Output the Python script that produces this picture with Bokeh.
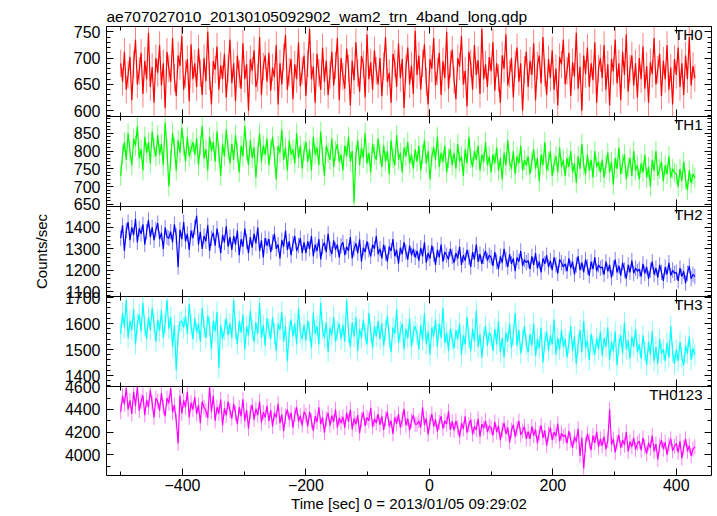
import numpy as np
from bokeh.plotting import figure
from bokeh.layouts import column
from bokeh.models import LinearAxis, Range1d, Label, SingleIntervalTicker
from bokeh.embed import file_html
from bokeh.resources import INLINE

title_text = "ae707027010_20130105092902_wam2_trn_4band_long.qdp"
x_label = "Time [sec] 0 = 2013/01/05 09:29:02"
y_label = "Counts/sec"

t_start = -500
t_step = 3

th0 = [
    690, 655, 712, 640, 668, 702, 620, 688, 735, 650, 676, 710, 632, 695, 660, 748, 645, 683, 615, 700,
    672, 725, 648, 690, 605, 712, 680, 655, 738, 662, 628, 705, 685, 742, 640, 670, 698, 618, 726, 660,
    690, 645, 718, 672, 630, 700, 656, 750, 665, 612, 694, 678, 722, 640, 686, 660, 708, 625, 680, 735,
    652, 690, 618, 705, 670, 642, 728, 660, 688, 600, 698, 676, 715, 645, 662, 740, 630, 684, 705, 655,
    710, 638, 682, 664, 725, 612, 690, 650, 702, 744, 640, 674, 698, 622, 688, 660, 730, 646, 676, 705,
    628, 690, 755, 660, 684, 615, 708, 672, 640, 720, 655, 695, 630, 668, 712, 648, 686, 738, 620, 700,
    665, 642, 718, 680, 610, 695, 658, 730, 672, 636, 704, 688, 625, 745, 660, 692, 640, 715, 676, 650,
    700, 628, 685, 740, 655, 672, 615, 708, 690, 645, 728, 662, 698, 605, 680, 720, 650, 686, 632, 752,
    668, 705, 640, 690, 726, 655, 612, 698, 680, 738, 648, 675, 710, 630, 694, 662, 750, 642, 688, 716,
    658, 622, 700, 684, 742, 650, 676, 608, 712, 690, 640, 725, 668, 696, 632, 755, 660, 688, 645, 702,
    675, 730, 638, 690, 662, 615, 705, 680, 745, 648, 670, 700, 625, 688, 720, 655, 690, 600, 678, 712,
    645, 695, 668, 728, 620, 686, 705, 652, 740, 672, 630, 698, 662, 715, 640, 680, 610, 702, 688, 735,
    650, 676, 710, 628, 692, 665, 748, 642, 684, 600, 705, 670, 720, 645, 690, 658, 730, 615, 680, 700,
    662, 725, 640, 688, 610, 698, 675, 735, 652, 690, 620, 712, 668, 745, 636, 680, 705, 648, 690, 625,
    700, 660, 722, 642, 685, 615, 692, 670, 738, 650, 678, 708, 628, 695, 660, 725, 640, 682, 612, 698,
    668, 720, 645, 690, 630, 705, 660, 740, 648, 685, 662,
]

th1 = [
    730, 790, 825, 775, 850, 800, 760, 835, 815, 870, 780, 805, 745, 840, 795, 825, 765, 855, 810, 785,
    845, 790, 820, 760, 880, 805, 700, 775, 850, 810, 745, 830, 795, 865, 815, 770, 840, 785, 805, 825,
    790, 835, 760, 815, 870, 780, 805, 745, 840, 800, 825, 770, 855, 795, 730, 820, 785, 860, 805, 765,
    820, 775, 845, 795, 740, 815, 785, 870, 800, 760, 830, 780, 810, 725, 795, 850, 770, 815, 790, 835,
    760, 805, 840, 785, 720, 815, 795, 860, 775, 810, 745, 830, 790, 805, 765, 850, 780, 815, 750, 800,
    825, 770, 805, 745, 840, 790, 810, 760, 855, 785, 730, 815, 795, 775, 835, 755, 800, 820, 770, 790,
    745, 815, 785, 840, 770, 800, 655, 790, 830, 760, 810, 780, 850, 765, 795, 740, 820, 790, 775, 835,
    790, 755, 815, 770, 800, 735, 830, 780, 760, 845, 775, 795, 740, 810, 785, 825, 765, 790, 750, 805,
    770, 815, 745, 790, 830, 765, 800, 720, 785, 810, 775, 840, 755, 795, 770, 815, 740, 780, 805, 760,
    795, 750, 820, 770, 785, 730, 805, 765, 840, 780, 755, 800, 775, 815, 745, 790, 770, 825, 760, 785,
    740, 790, 765, 810, 745, 780, 720, 795, 760, 830, 770, 750, 800, 735, 785, 765, 815, 745, 775, 760,
    785, 735, 770, 805, 750, 780, 715, 790, 760, 825, 745, 770, 800, 730, 765, 785, 740, 810, 755, 775,
    730, 780, 755, 800, 740, 765, 710, 785, 750, 820, 760, 735, 790, 745, 775, 725, 800, 755, 770, 740,
    775, 725, 760, 795, 740, 770, 705, 780, 750, 810, 735, 765, 790, 720, 755, 780, 730, 800, 745, 760,
    720, 765, 740, 790, 725, 755, 700, 775, 745, 800, 730, 750, 770, 715, 760, 735, 785, 725, 750, 740,
    735, 700, 750, 715, 770, 720, 690, 745, 710, 735, 725,
]

th2 = [
    1350, 1410, 1290, 1385, 1425, 1340, 1400, 1365, 1440, 1330, 1395, 1370, 1415, 1320, 1380, 1435, 1355, 1400, 1340, 1390,
    1420, 1345, 1375, 1300, 1400, 1355, 1350, 1380, 1330, 1415, 1360, 1215, 1390, 1345, 1425, 1335, 1370, 1295, 1385, 1350,
    1400, 1455, 1320, 1380, 1300, 1360, 1335, 1410, 1290, 1350, 1375, 1315, 1395, 1340, 1280, 1365, 1330, 1405, 1310, 1355,
    1295, 1360, 1320, 1385, 1270, 1345, 1310, 1395, 1335, 1280, 1355, 1305, 1370, 1325, 1400, 1290, 1340, 1260, 1350, 1315,
    1345, 1285, 1330, 1370, 1300, 1320, 1255, 1340, 1310, 1385, 1295, 1335, 1270, 1325, 1360, 1290, 1315, 1350, 1280, 1330,
    1280, 1335, 1300, 1360, 1265, 1320, 1290, 1345, 1250, 1310, 1330, 1285, 1370, 1300, 1275, 1340, 1295, 1320, 1260, 1315,
    1330, 1270, 1310, 1290, 1355, 1255, 1300, 1325, 1280, 1345, 1240, 1305, 1285, 1335, 1295, 1265, 1320, 1300, 1360, 1275,
    1300, 1255, 1320, 1280, 1240, 1310, 1290, 1345, 1265, 1295, 1230, 1305, 1275, 1330, 1285, 1250, 1315, 1270, 1300, 1260,
    1290, 1245, 1305, 1265, 1330, 1235, 1280, 1255, 1315, 1275, 1225, 1295, 1260, 1320, 1240, 1285, 1270, 1250, 1300, 1265,
    1235, 1280, 1255, 1310, 1225, 1270, 1245, 1295, 1260, 1215, 1285, 1250, 1320, 1240, 1275, 1230, 1265, 1290, 1245, 1270,
    1260, 1220, 1285, 1240, 1205, 1265, 1235, 1300, 1250, 1215, 1275, 1230, 1255, 1195, 1260, 1240, 1290, 1220, 1250, 1235,
    1245, 1205, 1265, 1225, 1280, 1210, 1240, 1190, 1255, 1230, 1270, 1215, 1245, 1200, 1260, 1225, 1185, 1250, 1235, 1215,
    1230, 1195, 1255, 1210, 1240, 1180, 1225, 1265, 1200, 1235, 1190, 1250, 1215, 1175, 1240, 1205, 1260, 1195, 1225, 1210,
    1215, 1180, 1240, 1195, 1225, 1165, 1210, 1250, 1190, 1220, 1175, 1235, 1200, 1160, 1225, 1190, 1245, 1185, 1210, 1195,
    1205, 1170, 1230, 1185, 1215, 1160, 1200, 1240, 1180, 1210, 1165, 1225, 1190, 1150, 1215, 1180, 1235, 1175, 1200, 1185,
    1190, 1150, 1210, 1170, 1195, 1140, 1185, 1220, 1160, 1180, 1170,
]

th3 = [
    1560, 1640, 1585, 1690, 1545, 1610, 1575, 1655, 1520, 1600, 1635, 1570, 1680, 1590, 1540, 1625, 1575, 1660, 1600, 1530,
    1615, 1570, 1650, 1545, 1600, 1690, 1580, 1625, 1510, 1595, 1420, 1555, 1605, 1610, 1585, 1630, 1560, 1675, 1595, 1540,
    1620, 1565, 1600, 1530, 1660, 1585, 1545, 1630, 1590, 1500, 1610, 1570, 1645, 1430, 1595, 1540, 1575, 1620, 1555, 1600,
    1545, 1690, 1580, 1520, 1610, 1565, 1635, 1500, 1590, 1555, 1650, 1575, 1530, 1605, 1560, 1680, 1545, 1595, 1515, 1620,
    1580, 1540, 1625, 1560, 1495, 1600, 1575, 1645, 1530, 1590, 1455, 1570, 1615, 1550, 1600, 1520, 1660, 1565, 1540, 1595,
    1535, 1610, 1570, 1505, 1640, 1560, 1590, 1520, 1680, 1575, 1545, 1605, 1490, 1585, 1555, 1625, 1530, 1570, 1600, 1540,
    1595, 1530, 1690, 1565, 1510, 1605, 1550, 1625, 1495, 1580, 1545, 1615, 1560, 1520, 1640, 1570, 1505, 1590, 1550, 1610,
    1540, 1600, 1515, 1575, 1630, 1545, 1490, 1585, 1560, 1655, 1525, 1570, 1600, 1500, 1580, 1545, 1620, 1510, 1565, 1590,
    1560, 1500, 1595, 1535, 1640, 1520, 1570, 1480, 1585, 1550, 1615, 1510, 1600, 1545, 1660, 1525, 1565, 1495, 1580, 1540,
    1505, 1575, 1540, 1600, 1480, 1555, 1520, 1625, 1545, 1495, 1580, 1530, 1650, 1510, 1560, 1470, 1545, 1590, 1515, 1565,
    1550, 1495, 1580, 1520, 1610, 1490, 1545, 1470, 1565, 1530, 1600, 1505, 1555, 1640, 1515, 1575, 1485, 1540, 1590, 1520,
    1490, 1560, 1515, 1600, 1475, 1540, 1505, 1585, 1450, 1530, 1570, 1495, 1555, 1520, 1615, 1480, 1545, 1500, 1575, 1510,
    1540, 1470, 1525, 1590, 1495, 1550, 1445, 1520, 1575, 1490, 1610, 1505, 1535, 1460, 1560, 1515, 1480, 1545, 1500, 1570,
    1475, 1545, 1510, 1585, 1460, 1530, 1495, 1570, 1440, 1520, 1555, 1485, 1605, 1500, 1535, 1465, 1550, 1510, 1580, 1490,
    1520, 1465, 1555, 1495, 1440, 1530, 1480, 1570, 1455, 1510, 1445, 1540, 1485, 1500, 1455, 1525, 1470, 1590, 1490, 1445,
    1500, 1455, 1530, 1470, 1440, 1515, 1485, 1550, 1460, 1505, 1480,
]

th0123 = [
    4380, 4520, 4445, 4590, 4400, 4480, 4360, 4555, 4430, 4600, 4390, 4470, 4525, 4350, 4485, 4420, 4570, 4455, 4330, 4500,
    4470, 4390, 4545, 4420, 4340, 4500, 4455, 4590, 4375, 4440, 4300, 4100, 4520, 4365, 4480, 4420, 4555, 4330, 4460, 4400,
    4510, 4360, 4440, 4280, 4470, 4420, 4390, 4325, 4600, 4380, 4520, 4300, 4420, 4365, 4490, 4260, 4410, 4350, 4470, 4390,
    4320, 4450, 4365, 4270, 4420, 4340, 4490, 4300, 4395, 4230, 4380, 4440, 4310, 4405, 4350, 4470, 4285, 4375, 4330, 4430,
    4300, 4395, 4250, 4370, 4330, 4450, 4280, 4355, 4210, 4340, 4400, 4310, 4370, 4240, 4355, 4420, 4295, 4345, 4260, 4380,
    4350, 4250, 4380, 4300, 4210, 4340, 4290, 4420, 4270, 4330, 4195, 4315, 4370, 4260, 4345, 4290, 4400, 4240, 4325, 4280,
    4335, 4240, 4370, 4290, 4400, 4225, 4320, 4270, 4350, 4190, 4310, 4375, 4255, 4330, 4300, 4415, 4245, 4320, 4280, 4360,
    4265, 4340, 4220, 4315, 4380, 4250, 4300, 4185, 4330, 4275, 4360, 4240, 4310, 4405, 4260, 4320, 4215, 4300, 4350, 4270,
    4270, 4300, 4240, 4420, 4265, 4320, 4180, 4290, 4360, 4250, 4310, 4205, 4285, 4340, 4230, 4300, 4270, 4385, 4220, 4295,
    4215, 4300, 4240, 4155, 4280, 4230, 4340, 4195, 4265, 4310, 4180, 4250, 4220, 4320, 4160, 4270, 4235, 4300, 4200, 4255,
    4240, 4170, 4290, 4200, 4255, 4130, 4220, 4280, 4185, 4240, 4110, 4215, 4265, 4160, 4230, 4300, 4175, 4210, 4250, 4140,
    4205, 4140, 4250, 4170, 4225, 4100, 4190, 4260, 4150, 4215, 4080, 4185, 4240, 4130, 4200, 4165, 4275, 4120, 4190, 4160,
    4175, 4100, 4210, 4130, 4060, 4160, 4115, 4230, 3990, 4150, 3880, 4090, 4185, 4120, 4040, 4170, 4105, 4205, 4070, 4140,
    4080, 4160, 4050, 4125, 4400, 4090, 4140, 4020, 4110, 4175, 4060, 4130, 4085, 4200, 4030, 4115, 4070, 4150, 4045, 4100,
    4120, 4040, 4150, 4070, 4010, 4105, 4060, 4170, 4030, 4095, 3960, 4080, 4130, 4050, 4110, 4000, 4090, 4140, 4035, 4075,
    4100, 4020, 4120, 3970, 4065, 4140, 4030, 4080, 3990, 4050, 4070,
]

series = [th0, th1, th2, th3, th0123]
errors = [26, 28, 36, 40, 66]
names = ["TH0", "TH1", "TH2", "TH3", "TH0123"]
colors = ["#ff0000", "#00ff00", "#0000ff", "#00ffff", "#ff00ff"]
y_ranges = [(589, 760), (644, 897), (1077, 1498), (1358, 1704), (3817, 4603)]
y_major = [50, 50, 100, 100, 200]
y_minor = [5, 5, 5, 5, 2]
x_range = (-523, 457)

FONT = "Liberation Sans"
FS = "15px"
TFS = "16px"
FW, PH, LB, RB = 605, 90, 106, 3
PAD = 10

shared_x = Range1d(*x_range)


def style_axis(ax, show_labels):
    ax.major_tick_in = 7
    ax.major_tick_out = 0
    ax.minor_tick_in = 4
    ax.minor_tick_out = 0
    ax.axis_line_color = None
    ax.major_tick_line_color = "black"
    ax.minor_tick_line_color = "black"
    ax.major_label_text_font = FONT
    ax.axis_label_text_font = FONT
    ax.axis_label_text_font_style = "normal"
    ax.axis_label_text_font_size = FS
    ax.axis_label_text_color = "black"
    if show_labels:
        ax.major_label_text_font_size = TFS
        ax.major_label_text_color = "black"
    else:
        ax.major_label_text_font_size = "1px"
        ax.major_label_text_color = None
        ax.major_label_standoff = 0


figs = []
for i in range(5):
    vals = np.array(series[i], dtype=float)
    t = t_start + t_step * np.arange(len(vals))
    top = 26 if i == 0 else PAD
    bottom = 38 if i == 4 else PAD
    p = figure(width=LB + FW + RB, height=top + PH + bottom,
               x_range=shared_x, y_range=Range1d(*y_ranges[i]),
               x_axis_location=None, y_axis_location=None,
               output_backend="svg", toolbar_location=None,
               min_border_left=LB, min_border_right=RB,
               min_border_top=top, min_border_bottom=bottom)
    if i > 0:
        p.margin = (-2 * PAD, 0, 0, 0)
    p.grid.visible = False
    p.outline_line_color = "black"
    p.outline_line_width = 1
    p.background_fill_color = "white"
    p.border_fill_color = None

    xt = SingleIntervalTicker(interval=200, num_minor_ticks=2)
    yt = SingleIntervalTicker(interval=y_major[i], num_minor_ticks=y_minor[i])

    left = LinearAxis(ticker=yt)
    style_axis(left, True)
    left.major_label_standoff = 6
    if i == 2:
        left.axis_label = y_label
        left.axis_label_standoff = 12
    p.add_layout(left, "left")

    right = LinearAxis(ticker=yt)
    style_axis(right, False)
    p.add_layout(right, "right")

    above = LinearAxis(ticker=xt)
    style_axis(above, False)
    p.add_layout(above, "above")

    below = LinearAxis(ticker=xt)
    style_axis(below, i == 4)
    if i == 4:
        below.major_label_standoff = 3
        below.axis_label = x_label
        below.axis_label_standoff = 1
    p.add_layout(below, "below")

    if i == 0:
        p.title.text = title_text
        p.title.align = "left"
        p.title.text_font = FONT
        p.title.text_font_size = "15.5px"
        p.title.text_font_style = "normal"
        p.title.text_color = "black"
        p.title.standoff = 3

    e = errors[i]
    p.segment(t, vals - e, t, vals + e, line_color=colors[i], line_alpha=0.5, line_width=1)
    p.line(t, vals, line_color=colors[i], line_width=1.2)

    p.add_layout(Label(x=x_range[1], y=y_ranges[i][1], x_offset=-9, y_offset=1,
                       text=names[i], text_align="right", text_baseline="top",
                       text_font=FONT, text_font_size=FS, text_color="black"))
    figs.append(p)

layout = column(*figs, spacing=0)
open("out.html", "w").write(file_html(layout, INLINE))
